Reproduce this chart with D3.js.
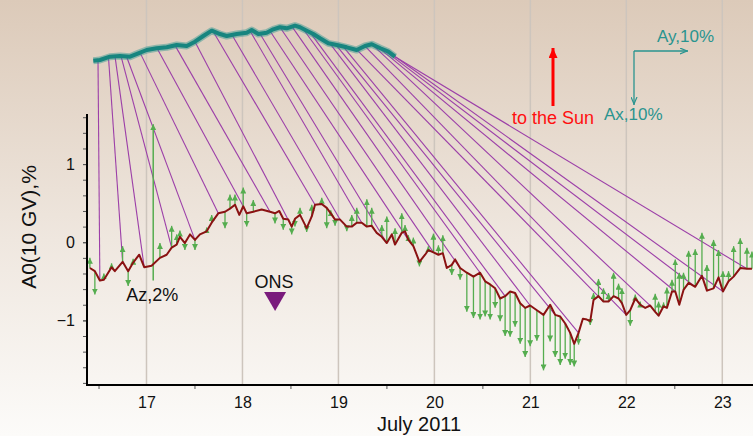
<!DOCTYPE html>
<html>
<head>
<meta charset="utf-8">
<style>
  body { margin: 0; background: #fff; }
  svg { display: block; font-family: "Liberation Sans", Arial, sans-serif; }
  .grid { stroke: #cdc5bd; stroke-width: 1.5; }
  .link { stroke: #9c3fa8; stroke-width: 1.1; fill: none; }
  .tick line { stroke: #555; }
  .tick text { fill: #111; font-size: 16px; font-family: "Liberation Sans", Arial, sans-serif; }
</style>
</head>
<body>
<div id="chart"></div>
<script src="https://cdn.jsdelivr.net/npm/d3@7"></script>
<script>
// A0 (10 GV): time in days of July 2011, value in %
var a0Time = [16.410, 16.462, 16.514, 16.556, 16.636, 16.670, 16.751, 16.809, 16.861, 16.924,
  16.976, 17.053, 17.140, 17.210, 17.262, 17.314, 17.348, 17.400, 17.453, 17.505,
  17.557, 17.627, 17.679, 17.748, 17.818, 17.870, 17.922, 17.967, 18.008, 18.044,
  18.113, 18.200, 18.287, 18.339, 18.384, 18.425, 18.478, 18.513, 18.547, 18.600,
  18.669, 18.722, 18.756, 18.826, 18.878, 18.920, 18.965, 19.017, 19.087, 19.139,
  19.191, 19.243, 19.296, 19.347, 19.399, 19.452, 19.504, 19.556, 19.590, 19.660,
  19.694, 19.729, 19.781, 19.844, 19.903, 19.937, 19.990, 20.042, 20.088, 20.129,
  20.181, 20.216, 20.268, 20.338, 20.407, 20.476, 20.529, 20.581, 20.633, 20.685,
  20.737, 20.789, 20.841, 20.894, 20.946, 20.998, 21.068, 21.137, 21.206, 21.259,
  21.311, 21.363, 21.415, 21.457, 21.502, 21.547, 21.589, 21.624, 21.658, 21.710,
  21.762, 21.814, 21.867, 21.919, 21.954, 21.999, 22.041, 22.093, 22.145, 22.197,
  22.249, 22.301, 22.336, 22.388, 22.423, 22.476, 22.510, 22.552, 22.596, 22.649,
  22.718, 22.788, 22.840, 22.909, 22.961, 23.007, 23.065, 23.118, 23.187, 23.257, 23.309];
var a0Value = [-0.33, -0.37, -0.49, -0.48, -0.32, -0.37, -0.25, -0.37, -0.26, -0.16,
  -0.32, -0.30, -0.20, -0.16, -0.07, -0.03, 0.07, -0.01, 0.10, 0.03,
  0.10, 0.14, 0.25, 0.37, 0.39, 0.43, 0.48, 0.35, 0.46, 0.37,
  0.39, 0.42, 0.39, 0.37, 0.40, 0.30, 0.29, 0.20, 0.30, 0.35,
  0.18, 0.33, 0.48, 0.49, 0.44, 0.37, 0.29, 0.29, 0.20, 0.20,
  0.25, 0.25, 0.20, 0.21, 0.12, 0.07, -0.01, 0.10, -0.03, 0.12,
  0.14, 0.03, -0.05, -0.25, -0.16, -0.10, -0.13, -0.16, -0.14, -0.33,
  -0.29, -0.22, -0.33, -0.39, -0.44, -0.39, -0.50, -0.54, -0.59, -0.72,
  -0.69, -0.63, -0.65, -0.78, -0.84, -0.81, -0.87, -0.93, -0.80, -0.93,
  -0.95, -1.04, -1.16, -1.30, -1.16, -0.98, -0.99, -1.01, -0.74, -0.69,
  -0.76, -0.76, -0.69, -0.72, -0.78, -0.93, -0.87, -0.72, -0.80, -0.84,
  -0.81, -0.89, -0.94, -0.82, -0.84, -0.63, -0.63, -0.80, -0.61, -0.52,
  -0.57, -0.43, -0.62, -0.59, -0.45, -0.63, -0.50, -0.44, -0.33, -0.34, -0.34];
// Az component (%) drawn as vertical arrows from the A0 points
var azValue = [0.13, -0.30, 0, 0.08, 0.05, 0, 0.20, -0.19, 0.05, 0,
  0, 0, 0.19, 0, 0.28, 0.13, 0.08, -0.09, 0, -0.13,
  0, 0.05, 0.10, 0, -0.21, 0.18, 0.13, 0, 0.24, -0.17,
  0.15, 0, 0, -0.13, 0, -0.14, 0, -0.10, -0.10, 0.09,
  -0.05, 0.15, 0, 0.08, -0.26, 0.04, -0.08, 0, -0.06, 0.15,
  0.19, 0, 0.35, 0.23, 0, 0.15, 0.34, 0, 0.21, 0.25,
  0.08, 0.06, 0.11, -0.06, 0, 0.05, 0.24, 0.12, 0.23, 0,
  -0.13, 0, -0.15, -0.50, -0.53, -0.60, -0.45, -0.45, -0.25, -0.29,
  -0.51, -0.58, -0.43, -0.52, -0.63, -0.52, -0.39, -0.71, -0.47, -0.54,
  -0.62, -0.45, -0.41, -0.29, -0.15, 0, 0, -0.05, 0.09, 0.22,
  0.17, 0.11, 0.30, 0.19, 0.19, 0, -0.20, 0.05, 0.04, 0,
  0, 0.23, 0.18, 0.05, 0.26, 0.15, 0.41, 0.41, 0.22, 0.41,
  0.48, 0.55, 0.33, 0.62, 0.35, 0.26, 0.13, 0.39, 0.38, 0.27, 0.22];

// horizontal vector trace (hodograph), Ay to the right and Ax downwards, in %
var hodoAy = [0, 1.24, 3.09, 4.94, 6.80, 8.33, 9.89, 11.74, 13.59, 15.44,
  17.30, 18.83, 20.37, 21.93, 23.46, 24.70, 26.56, 28.41, 29.33, 30.56,
  32.11, 33.33, 34.57, 35.81, 37.35, 38.28, 39.52, 40.74, 41.98, 43.52,
  45.07, 46.93, 48.78, 50.31, 51.56, 53.15, 54.63, 55.87];
var hodoAx = [0, -0.13, -0.74, -0.87, -0.74, -1.37, -1.98, -2.30, -2.48, -2.91,
  -2.72, -3.52, -4.57, -5.56, -4.94, -4.57, -4.94, -5.19, -5.69, -4.94,
  -5.19, -5.81, -6.19, -6.00, -6.48, -6.19, -5.56, -4.94, -4.15, -3.22,
  -2.91, -2.48, -1.98, -2.72, -3.04, -2.30, -1.67, -0.74];

// every 6 hours the trace point is joined to the A0 point
var linkTime = [16.50, 16.75, 17.00, 17.25, 17.50, 17.75, 18.00, 18.25, 18.50, 18.75,
  19.00, 19.25, 19.50, 19.75, 20.00, 20.25, 20.50, 20.75, 21.00, 21.25,
  21.50, 21.75, 22.00, 22.25, 22.50, 22.75, 23.00, 23.25];
var linkAy = [0.87, 2.81, 4.02, 5.13, 6.15, 8.65, 11.80, 15.13, 18.83, 22.17,
  25.69, 29.02, 30.87, 32.72, 34.57, 36.80, 38.83, 40.13, 43.83, 44.94,
  46.24, 48.83, 50.31, 51.61, 52.72, 53.65, 54.76, 55.87];

var xTicks = [17, 18, 19, 20, 21, 22, 23];
var xMinorTicks = [16.5, 17.5, 18.5, 19.5, 20.5, 21.5, 22.5];
var yTicks = [-1, 0, 1];
var yMinorTicks = [-1.8, -1.6, -1.4, -1.2, -1.0, -0.8, -0.6, -0.4, -0.2, 0, 0.2, 0.4, 0.6, 0.8, 1.0, 1.2, 1.4, 1.6];

var onsTime = 18.34;
var azLegend = { t: 17.07, v: -0.49, az: 2 };

var width = 753, height = 436;
var green = "#55ad4f", teal = "#2a948f";

var svg = d3.select("#chart").append("svg")
    .attr("width", width)
    .attr("height", height);

var defs = svg.append("defs");
var bg = defs.append("linearGradient").attr("id", "bg")
    .attr("x1", 0).attr("y1", 0).attr("x2", 0).attr("y2", 1);
bg.append("stop").attr("offset", "0%").attr("stop-color", "#dccab9");
bg.append("stop").attr("offset", "55%").attr("stop-color", "#efe7df");
bg.append("stop").attr("offset", "100%").attr("stop-color", "#fcfbf9");

function marker(id, d, w, h, fill, stroke) {
    defs.append("marker").attr("id", id)
        .attr("viewBox", "0 0 " + w + " " + h)
        .attr("refX", w).attr("refY", h / 2)
        .attr("markerWidth", w).attr("markerHeight", h)
        .attr("markerUnits", "userSpaceOnUse")
        .attr("orient", "auto")
        .append("path").attr("d", d)
        .attr("fill", fill).attr("stroke", stroke || "none").attr("stroke-width", 1.2);
}
marker("gHead", "M0,0L6,3L0,6Z", 6, 6, green);
marker("rHead", "M0,0L10,4.5L0,9Z", 10, 9, "#ff0000");
marker("tHead", "M0,0.5L7,3.5L0,6.5", 8, 7, "none", teal);

svg.append("rect").attr("width", width).attr("height", height).attr("fill", "url(#bg)");

var x = d3.scaleLinear().domain([16.38, 23.32]).range([87, 753]);
var y = d3.scaleLinear().domain([-1.827, 1.641]).range([385, 114]);
// hodograph: 10 % = 54 px
var hx = d3.scaleLinear().domain([0, 10]).range([93.3, 147.3]);
var hy = d3.scaleLinear().domain([0, 10]).range([60.7, 114.7]);
var axOnTrace = d3.scaleLinear().domain(hodoAy).range(hodoAx).clamp(true);

// day grid
svg.append("g").selectAll("line")
    .data(xTicks)
    .enter().append("line")
    .attr("class", "grid")
    .attr("x1", d => x(d)).attr("x2", d => x(d))
    .attr("y1", 0).attr("y2", 385);

// links trace -> A0
function nearest(t) {
    return d3.least(d3.range(a0Time.length), i => Math.abs(a0Time[i] - t));
}
svg.append("g").selectAll("line")
    .data(linkTime)
    .enter().append("line")
    .attr("class", "link")
    .attr("x1", (d, i) => hx(linkAy[i]))
    .attr("y1", (d, i) => hy(axOnTrace(linkAy[i])))
    .attr("x2", d => x(a0Time[nearest(d)]))
    .attr("y2", d => y(a0Value[nearest(d)]));

// hodograph trace
var trace = d3.line().x(i => hx(hodoAy[i])).y(i => hy(hodoAx[i])).curve(d3.curveLinear);
svg.append("path")
    .attr("d", trace(d3.range(hodoAy.length)))
    .attr("fill", "none").attr("stroke", teal).attr("stroke-opacity", 0.45)
    .attr("stroke-width", 7).attr("stroke-linejoin", "round");
svg.append("path")
    .attr("d", trace(d3.range(hodoAy.length)))
    .attr("fill", "none").attr("stroke", "#17857f")
    .attr("stroke-width", 4).attr("stroke-linejoin", "round");

// Az arrows
var idx = d3.range(a0Time.length).filter(i => azValue[i] !== 0);
svg.append("g").selectAll("line")
    .data(idx)
    .enter().append("line")
    .attr("x1", i => x(a0Time[i])).attr("x2", i => x(a0Time[i]))
    .attr("y1", i => y(a0Value[i]))
    .attr("y2", i => y(a0Value[i] + azValue[i]))
    .attr("stroke", green).attr("stroke-width", 1.3)
    .attr("marker-end", "url(#gHead)");

// Az scale arrow
svg.append("line")
    .attr("x1", x(azLegend.t)).attr("x2", x(azLegend.t))
    .attr("y1", y(azLegend.v)).attr("y2", y(azLegend.v + azLegend.az))
    .attr("stroke", green).attr("stroke-width", 1.5)
    .attr("marker-end", "url(#gHead)");

// A0 line
var a0Line = d3.line().x(i => x(a0Time[i])).y(i => y(a0Value[i]));
svg.append("path")
    .attr("d", a0Line(d3.range(a0Time.length)))
    .attr("fill", "none").attr("stroke", "#8a1212")
    .attr("stroke-width", 2).attr("stroke-linejoin", "round");

// axes
var gy = svg.append("g").attr("transform", "translate(87,0)");
gy.call(d3.axisLeft(y).tickValues(yMinorTicks).tickSize(4).tickFormat(""));
gy.select(".domain").remove();
var gy2 = svg.append("g").attr("transform", "translate(87,0)");
gy2.call(d3.axisLeft(y).tickValues(yTicks).tickSize(4).tickPadding(8).tickFormat(d3.format("d")));
gy2.select(".domain").remove();

var gx = svg.append("g").attr("transform", "translate(0,385)");
gx.call(d3.axisBottom(x).tickValues(xMinorTicks).tickSize(4).tickFormat(""));
gx.select(".domain").remove();
var gx2 = svg.append("g").attr("transform", "translate(0,385)");
gx2.call(d3.axisBottom(x).tickValues(xTicks).tickSize(0).tickPadding(12).tickFormat(d3.format("d")));
gx2.select(".domain").remove();

svg.append("line").attr("x1", 87).attr("x2", 87).attr("y1", 114).attr("y2", 386)
    .attr("stroke", "#000").attr("stroke-width", 2);
svg.append("line").attr("x1", 86).attr("x2", 753).attr("y1", 385).attr("y2", 385)
    .attr("stroke", "#000").attr("stroke-width", 2);

svg.append("text")
    .attr("x", 419).attr("y", 431)
    .attr("text-anchor", "middle")
    .attr("font-size", 20).attr("fill", "#111")
    .text("July 2011");

svg.append("text")
    .attr("transform", "translate(36,227) rotate(-90)")
    .attr("text-anchor", "middle")
    .attr("font-size", 21).attr("fill", "#111")
    .text("A0(10 GV),%");

svg.append("text")
    .attr("x", x(azLegend.t) - 1).attr("y", 301)
    .attr("text-anchor", "middle")
    .attr("font-size", 18).attr("fill", "#111")
    .text("Az,2%");

// onset marker
var ox = x(onsTime);
svg.append("text")
    .attr("x", ox - 1).attr("y", 288)
    .attr("text-anchor", "middle")
    .attr("font-size", 18).attr("fill", "#111")
    .text("ONS");
svg.append("path")
    .attr("d", "M" + (ox - 11) + ",292L" + (ox + 11) + ",292L" + ox + ",311Z")
    .attr("fill", "#7a1b7c");

// direction to the Sun
svg.append("line")
    .attr("x1", 553).attr("x2", 553).attr("y1", 106).attr("y2", 48)
    .attr("stroke", "#ff0000").attr("stroke-width", 3)
    .attr("marker-end", "url(#rHead)");
svg.append("text")
    .attr("x", 553).attr("y", 124)
    .attr("text-anchor", "middle")
    .attr("font-size", 18).attr("fill", "#ff1010")
    .text("to the Sun");

// Ax / Ay scale arrows (10 %)
var ox0 = 634, oy0 = 51;
svg.append("line")
    .attr("x1", ox0).attr("y1", oy0)
    .attr("x2", ox0 + hx(10) - hx(0)).attr("y2", oy0)
    .attr("stroke", teal).attr("stroke-width", 1.3)
    .attr("marker-end", "url(#tHead)");
svg.append("line")
    .attr("x1", ox0).attr("y1", oy0)
    .attr("x2", ox0).attr("y2", oy0 + hy(10) - hy(0))
    .attr("stroke", teal).attr("stroke-width", 1.3)
    .attr("marker-end", "url(#tHead)");
svg.append("text")
    .attr("x", 657).attr("y", 42)
    .attr("font-size", 17).attr("fill", teal)
    .text("Ay,10%");
svg.append("text")
    .attr("x", 604).attr("y", 120)
    .attr("font-size", 17).attr("fill", teal)
    .text("Ax,10%");
</script>
</body>
</html>
